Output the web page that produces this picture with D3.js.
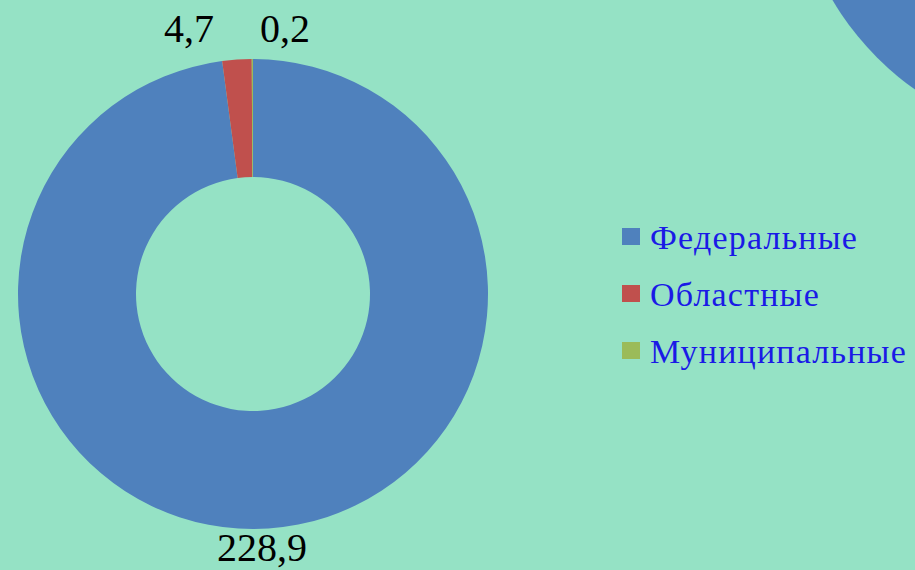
<!DOCTYPE html>
<html><head><meta charset="utf-8">
<script src="https://cdn.jsdelivr.net/npm/d3@7"></script>
<style>html,body{margin:0;padding:0;background:#95e2c5;overflow:hidden}</style>
</head><body>
<svg id="c" width="915" height="570"></svg>
<script>
const categories = ["Федеральные", "Областные", "Муниципальные"];
const values = [228.9, 4.7, 0.2];
const valueLabels = ["228,9", "4,7", "0,2"];
const colors = ["#4f81bd", "#c0504d", "#9bbb59"];

const svg = d3.select("#c");
svg.append("rect").attr("width", 915).attr("height", 570).attr("fill", "#95e2c5");
// decorative circle in the corner
svg.append("circle").attr("cx", 1083).attr("cy", -148).attr("r", 291).attr("fill", "#4f81bd");

const cx = 253, cy = 294, rOut = 235, rIn = 117;
const pie = d3.pie().sort(null).value(d => d)(values);
const arc = d3.arc().innerRadius(rIn).outerRadius(rOut);
const g = svg.append("g").attr("transform", `translate(${cx},${cy})`);
g.selectAll("path").data(pie).join("path").attr("d", arc).attr("fill", (d, i) => colors[i]);

// data labels
const labelPos = [[9, 267], [-64, -252], [32, -252]];
g.selectAll("text").data(pie).join("text")
  .attr("x", (d, i) => labelPos[i][0]).attr("y", (d, i) => labelPos[i][1])
  .attr("text-anchor", "middle")
  .attr("font-family", "'Liberation Serif', 'Times New Roman', serif")
  .attr("font-size", 40).attr("fill", "#000")
  .text((d, i) => valueLabels[i]);

// legend
const lg = svg.append("g").attr("transform", "translate(622,228)");
categories.forEach((c, i) => {
  const row = lg.append("g").attr("transform", `translate(0,${i * 57})`);
  row.append("rect").attr("width", 18).attr("height", 17).attr("fill", colors[i]);
  row.append("text").attr("x", 28).attr("y", 21)
    .attr("font-family", "'Liberation Serif', 'Times New Roman', serif")
    .attr("font-size", 34).attr("letter-spacing", 1.2).attr("fill", "#1a1ae6").text(c);
});
</script>
</body></html>
